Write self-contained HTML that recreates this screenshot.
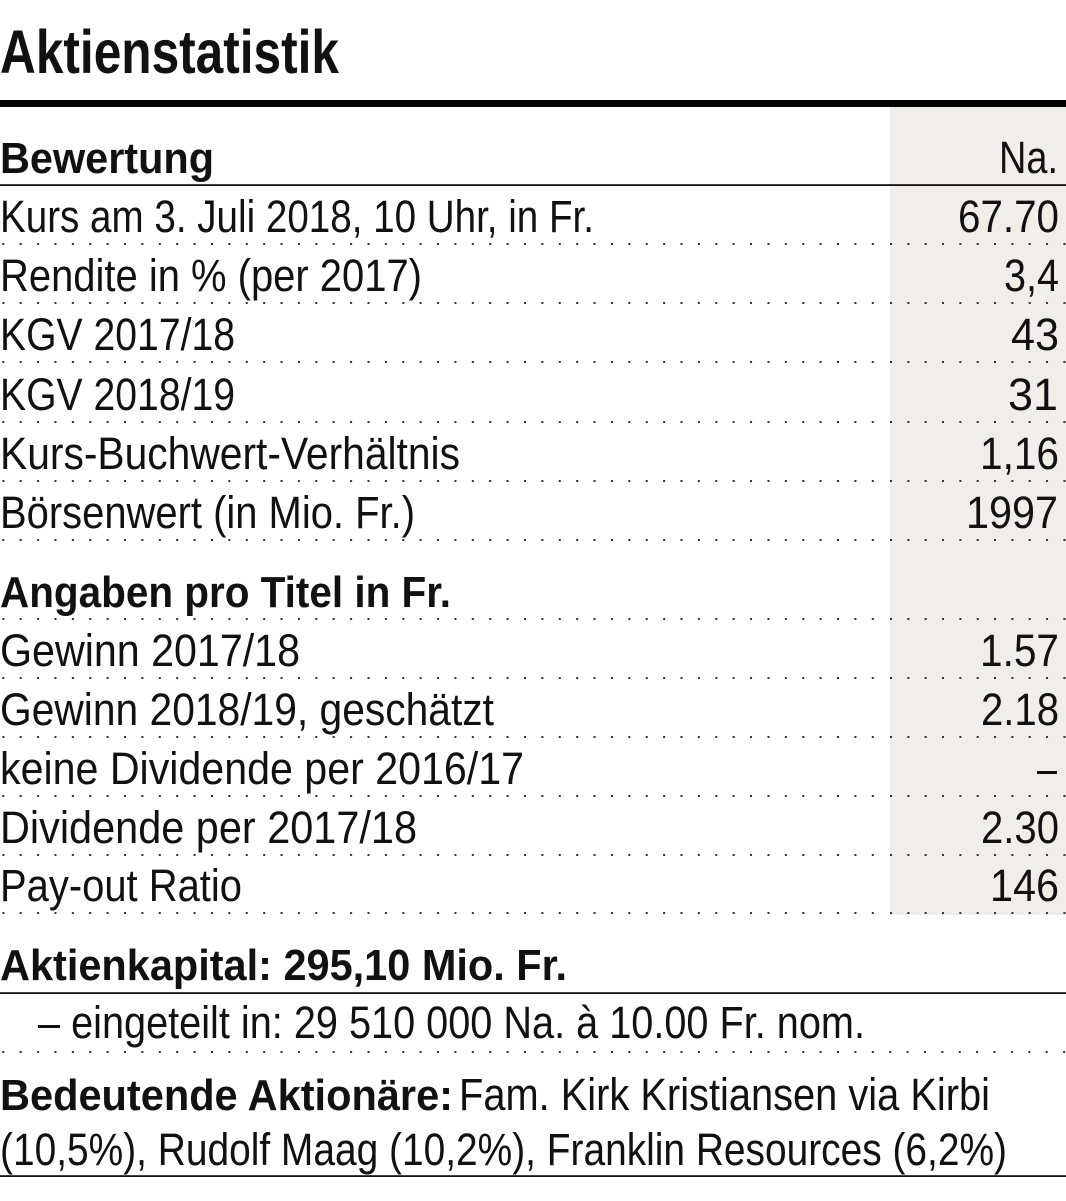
<!DOCTYPE html>
<html>
<head>
<meta charset="utf-8">
<style>
html,body{margin:0;padding:0;background:#fff;}
svg{display:block;}
text{font-family:"Liberation Sans",Arial,sans-serif;fill:#111;}
.r{font-size:45px;}
.b{font-size:44px;font-weight:bold;}
.t{font-size:61px;font-weight:bold;}
</style>
</head>
<body>
<svg width="1066" height="1201" viewBox="0 0 1066 1201" xmlns="http://www.w3.org/2000/svg">
<defs>
<pattern id="dl" patternUnits="userSpaceOnUse" x="2.3" y="0" width="17.39" height="1201">
<rect x="0" y="0" width="2" height="1201" fill="#333"/>
</pattern>
<pattern id="dr" patternUnits="userSpaceOnUse" x="890" y="0" width="17.34" height="1201">
<rect x="0" y="0" width="2" height="1201" fill="#333"/>
</pattern>
</defs>
<rect width="1066" height="1201" fill="#fff"/>
<!-- shaded column -->
<rect x="890" y="107" width="176" height="808" fill="#efeeea"/>
<!-- thick rule -->
<rect x="0" y="100" width="1066" height="7" fill="#000"/>
<!-- thin solid lines -->
<rect x="0" y="184.2" width="1066" height="1.8" fill="#111"/>
<rect x="0" y="992.2" width="1066" height="1.8" fill="#111"/>
<rect x="0" y="1175.2" width="1066" height="1.8" fill="#111"/>
<!-- dotted lines -->
<g>
<rect x="0" y="243" width="888" height="2" fill="url(#dl)"/><rect x="890" y="243" width="176" height="2" fill="url(#dr)"/>
<rect x="0" y="302" width="888" height="2" fill="url(#dl)"/><rect x="890" y="302" width="176" height="2" fill="url(#dr)"/>
<rect x="0" y="361" width="888" height="2" fill="url(#dl)"/><rect x="890" y="361" width="176" height="2" fill="url(#dr)"/>
<rect x="0" y="421" width="888" height="2" fill="url(#dl)"/><rect x="890" y="421" width="176" height="2" fill="url(#dr)"/>
<rect x="0" y="480" width="888" height="2" fill="url(#dl)"/><rect x="890" y="480" width="176" height="2" fill="url(#dr)"/>
<rect x="0" y="539" width="888" height="2" fill="url(#dl)"/><rect x="890" y="539" width="176" height="2" fill="url(#dr)"/>
<rect x="0" y="618" width="888" height="2" fill="url(#dl)"/><rect x="890" y="618" width="176" height="2" fill="url(#dr)"/>
<rect x="0" y="677" width="888" height="2" fill="url(#dl)"/><rect x="890" y="677" width="176" height="2" fill="url(#dr)"/>
<rect x="0" y="736" width="888" height="2" fill="url(#dl)"/><rect x="890" y="736" width="176" height="2" fill="url(#dr)"/>
<rect x="0" y="795" width="888" height="2" fill="url(#dl)"/><rect x="890" y="795" width="176" height="2" fill="url(#dr)"/>
<rect x="0" y="854" width="888" height="2" fill="url(#dl)"/><rect x="890" y="854" width="176" height="2" fill="url(#dr)"/>
<rect x="0" y="912" width="888" height="2" fill="url(#dl)"/><rect x="890" y="912" width="176" height="2" fill="url(#dr)"/>
<rect x="0" y="1051" width="1066" height="2" fill="url(#dl)"/>
</g>

<!-- title -->
<text class="t" x="0" y="73" textLength="339" lengthAdjust="spacingAndGlyphs">Aktienstatistik</text>

<!-- header -->
<text class="b" x="0" y="173" textLength="214" lengthAdjust="spacingAndGlyphs">Bewertung</text>
<text class="r" x="999" y="173" textLength="59" lengthAdjust="spacingAndGlyphs">Na.</text>

<!-- Bewertung rows -->
<text class="r" x="0" y="232" textLength="594" lengthAdjust="spacingAndGlyphs">Kurs am 3. Juli 2018, 10 Uhr, in Fr.</text>
<text class="r" x="958" y="232" textLength="101" lengthAdjust="spacingAndGlyphs">67.70</text>

<text class="r" x="0" y="291" textLength="422" lengthAdjust="spacingAndGlyphs">Rendite in % (per 2017)</text>
<text class="r" x="1004" y="291" textLength="55" lengthAdjust="spacingAndGlyphs">3,4</text>

<text class="r" x="0" y="350" textLength="235" lengthAdjust="spacingAndGlyphs">KGV 2017/18</text>
<text class="r" x="1011" y="350" textLength="48" lengthAdjust="spacingAndGlyphs">43</text>

<text class="r" x="0" y="410" textLength="235" lengthAdjust="spacingAndGlyphs">KGV 2018/19</text>
<text class="r" x="1008" y="410" textLength="50" lengthAdjust="spacingAndGlyphs">31</text>

<text class="r" x="0" y="469" textLength="460" lengthAdjust="spacingAndGlyphs">Kurs-Buchwert-Verhältnis</text>
<text class="r" x="980" y="469" textLength="79" lengthAdjust="spacingAndGlyphs">1,16</text>

<text class="r" x="0" y="528" textLength="415" lengthAdjust="spacingAndGlyphs">Börsenwert (in Mio. Fr.)</text>
<text class="r" x="966" y="528" textLength="92" lengthAdjust="spacingAndGlyphs">1997</text>

<!-- Angaben -->
<text class="b" x="0" y="607" textLength="451" lengthAdjust="spacingAndGlyphs">Angaben pro Titel in Fr.</text>

<text class="r" x="0" y="666" textLength="300" lengthAdjust="spacingAndGlyphs">Gewinn 2017/18</text>
<text class="r" x="980" y="666" textLength="79" lengthAdjust="spacingAndGlyphs">1.57</text>

<text class="r" x="0" y="725" textLength="494" lengthAdjust="spacingAndGlyphs">Gewinn 2018/19, geschätzt</text>
<text class="r" x="981" y="725" textLength="78" lengthAdjust="spacingAndGlyphs">2.18</text>

<text class="r" x="0" y="784" textLength="524" lengthAdjust="spacingAndGlyphs">keine Dividende per 2016/17</text>
<text class="r" x="1037" y="784" textLength="20" lengthAdjust="spacingAndGlyphs">–</text>

<text class="r" x="0" y="843" textLength="417" lengthAdjust="spacingAndGlyphs">Dividende per 2017/18</text>
<text class="r" x="981" y="843" textLength="78" lengthAdjust="spacingAndGlyphs">2.30</text>

<text class="r" x="0" y="901" textLength="242" lengthAdjust="spacingAndGlyphs">Pay-out Ratio</text>
<text class="r" x="990" y="901" textLength="69" lengthAdjust="spacingAndGlyphs">146</text>

<!-- Aktienkapital -->
<text class="b" x="0" y="980" textLength="567" lengthAdjust="spacingAndGlyphs">Aktienkapital: 295,10 Mio. Fr.</text>
<text class="r" x="38" y="1038" textLength="827" lengthAdjust="spacingAndGlyphs">– eingeteilt in: 29 510 000 Na. à 10.00 Fr. nom.</text>

<!-- Aktionäre -->
<text class="b" x="0" y="1110" textLength="453" lengthAdjust="spacingAndGlyphs">Bedeutende Aktionäre:</text>
<text class="r" x="459" y="1110" textLength="531" lengthAdjust="spacingAndGlyphs">Fam. Kirk Kristiansen via Kirbi</text>
<text class="r" x="0" y="1165" textLength="1007" lengthAdjust="spacingAndGlyphs">(10,5%), Rudolf Maag (10,2%), Franklin Resources (6,2%)</text>
</svg>
</body>
</html>
